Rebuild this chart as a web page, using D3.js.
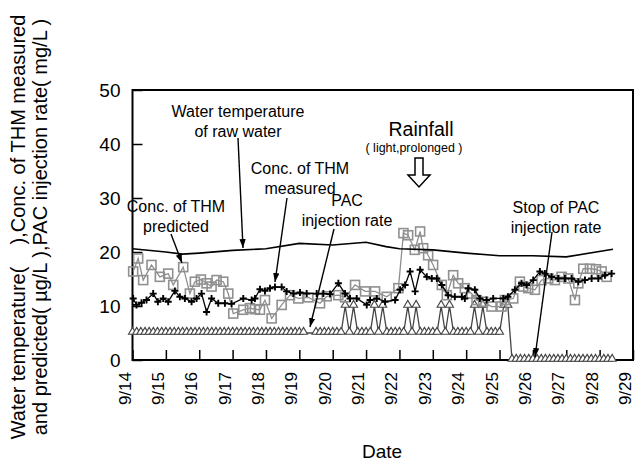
<!DOCTYPE html>
<html><head><meta charset="utf-8">
<script src="https://cdn.jsdelivr.net/npm/d3@7"></script>
<style>body{margin:0;background:#fff}svg{display:block}text{font-family:Arial,"Liberation Sans",sans-serif}</style>
</head><body><svg id="c" width="635" height="465"></svg>
<script>
// ---- data (days since 9/14 00:00) ----
const dateLabels = ["9/14","9/15","9/16","9/17","9/18","9/19","9/20","9/21","9/22","9/23","9/24","9/25","9/26","9/27","9/28","9/29"];
const yTicks = [0,10,20,30,40,50];

const tempDays = [0.0,1.0,1.5,2.0,3.0,4.0,5.0,6.0,7.0,7.6,8.0,9.0,10.0,11.0,12.0,13.0,14.4];
const tempVals = [20.6,20.0,19.6,19.8,20.3,20.6,21.6,21.3,21.8,21.0,20.6,20.4,19.8,19.3,19.3,19.1,20.5];

const measDays = [0.02,0.12,0.27,0.42,0.62,0.76,0.92,1.07,1.27,1.42,1.57,1.77,1.92,2.07,2.22,2.37,2.57,2.77,2.97,3.32,3.57,3.67,3.82,3.97,4.12,4.27,4.47,4.62,4.82,5.02,5.22,5.52,5.72,5.92,6.17,6.37,6.52,6.72,7.02,7.12,7.32,7.57,7.87,8.02,8.17,8.32,8.47,8.62,8.82,8.97,9.12,9.27,9.46,9.66,9.87,9.96,10.06,10.26,10.41,10.61,10.81,11.11,11.25,11.46,11.66,11.81,12.01,12.21,12.36,12.56,12.76,12.96,13.16,13.36,13.56,13.76,13.96,14.16,14.36];
const measVals = [11.4,10.2,10.6,11.1,12.3,10.8,11.4,10.8,12.8,11.7,11.4,10.8,11.4,12.3,8.9,11.4,10.5,10.5,10.4,11.4,11.1,11.4,13.1,12.8,13.3,13.5,13.5,12.7,12.3,12.5,12.3,12.3,12.3,12.2,14.2,12.3,11.4,11.4,10.2,11.1,11.4,10.8,11.1,13.0,13.9,16.4,12.7,16.7,15.4,15.1,15.1,13.9,12.0,11.7,11.7,11.4,13.3,13.0,11.4,11.1,11.4,11.4,11.7,13.0,14.2,13.9,14.8,16.4,16.0,15.4,15.1,15.1,15.1,14.5,14.8,15.1,15.1,15.7,16.0];

const predDays = [0.02,0.17,0.32,0.57,0.82,1.07,1.22,1.52,1.72,1.87,2.05,2.22,2.37,2.52,2.72,2.87,3.02,3.32,3.52,3.67,3.82,3.97,4.17,4.47,4.72,4.97,5.27,5.62,5.82,6.17,6.37,6.67,6.97,7.27,7.62,7.97,8.12,8.26,8.46,8.62,8.71,8.86,9.01,9.27,9.42,9.61,9.76,9.96,10.16,10.31,10.51,10.76,11.06,11.16,11.41,11.61,11.71,11.86,12.06,12.26,12.46,12.66,12.86,13.06,13.26,13.36,13.51,13.71,13.89,14.06,14.21];
const predVals = [16.4,18.8,14.8,17.6,15.4,16.0,13.9,17.2,12.3,14.5,14.9,14.2,13.6,14.8,14.5,12.3,8.6,9.3,9.6,9.4,9.3,11.1,7.7,10.2,12.0,11.4,11.6,10.5,11.8,12.0,11.6,13.9,12.7,12.7,11.7,13.3,23.5,23.1,20.4,23.8,20.7,19.4,17.6,13.9,12.0,15.7,14.2,13.3,12.3,11.1,10.8,9.9,9.9,11.1,11.4,14.5,13.6,13.3,13.0,14.8,15.1,14.8,15.4,15.1,11.1,14.2,16.9,16.9,16.8,16.4,15.4];

const pacDays = [0,0.125,0.25,0.375,0.5,0.625,0.75,0.875,1,1.125,1.25,1.375,1.5,1.625,1.75,1.875,2,2.125,2.25,2.375,2.5,2.625,2.75,2.875,3,3.125,3.25,3.375,3.5,3.625,3.75,3.875,4,4.125,4.25,4.375,4.5,4.625,4.75,4.875,5,5.125,5.5,5.625,5.75,5.875,6,6.125,6.25,6.375,6.5,6.625,6.75,6.875,7,7.125,7.25,7.375,7.5,7.625,7.75,7.875,8,8.125,8.25,8.375,8.5,8.625,8.75,8.875,9,9.125,9.25,9.375,9.5,9.625,9.75,9.875,10,10.125,10.25,10.375,10.5,10.625,10.75,10.875,11,11.125,11.25,11.375,11.5,11.625,11.75,11.875,12,12.125,12.25,12.375,12.5,12.625,12.75,12.875,13,13.125,13.25,13.375,13.5,13.625,13.75,13.875,14,14.125,14.25,14.375];
const pacVals = [5,5,5,5,5,5,5,5,5,5,5,5,5,5,5,5,5,5,5,5,5,5,5,5,5,5,5,5,5,5,5,5,5,5,5,5,5,5,5,5,5,5,5,5,5,5,5,5,5,10,5,10,5,5,5,5,10,5,10,5,5,5,5,5,10,5,10,5,5,5,5,5,10,5,10,5,5,5,5,5,10,5,10,5,5,5,5,10,10,0,0,0,0,0,0,0,0,0,0,0,0,0,0,0,0,0,0,0,0,0,0,0,0,0];

// ---- layout ----
const svg = d3.select("#c");
const L = 132.5, R = 633, T = 90, B = 360;
const x = d3.scaleLinear().domain([0,15]).range([L,R]);
const y = d3.scaleLinear().domain([0,50]).range([B,T]);
const FONT = 'Arial,"Liberation Sans",sans-serif';

// axes (ticks inward)
const yAxis = d3.axisLeft(y).tickValues(yTicks).tickSize(-10).tickPadding(12).tickFormat(d3.format("d"));
const gy = svg.append("g").attr("transform",`translate(${L},0)`).call(yAxis);
gy.select(".domain").remove();
gy.selectAll("line").attr("stroke","#000").attr("stroke-width",1.5);
gy.selectAll("text").attr("font-size",19).attr("font-family",FONT).attr("fill","#000");

const xAxis = d3.axisBottom(x).tickValues(d3.range(dateLabels.length)).tickSize(-10).tickFormat((d,i)=>dateLabels[i]);
const gx = svg.append("g").attr("transform",`translate(0,${B})`).call(xAxis);
gx.select(".domain").remove();
gx.selectAll("line").attr("stroke","#000").attr("stroke-width",1.5);
gx.selectAll("text").attr("font-size",17).attr("font-family",FONT).attr("fill","#000")
  .attr("text-anchor","end").attr("dy",null).attr("y",0)
  .attr("transform","translate(-8,12) rotate(-90)").attr("dominant-baseline","central");

// frame
svg.append("rect").attr("x",L).attr("y",T).attr("width",R-L).attr("height",B-T)
  .attr("fill","none").attr("stroke","#000").attr("stroke-width",2);

const line = d3.line().x(d=>x(d[0])).y(d=>y(d[1]));
const zip = (a,b)=>a.map((d,i)=>[d,b[i]]);

const pac = zip(pacDays,pacVals), pred = zip(predDays,predVals), meas = zip(measDays,measVals), temp = zip(tempDays,tempVals);

// PAC
svg.append("path").datum(pac).attr("d",line).attr("fill","none").attr("stroke","#444").attr("stroke-width",1.3);
const tri = d3.symbol().type(d3.symbolTriangle).size(28);
svg.append("g").selectAll("path").data(pac).join("path")
  .attr("d",tri).attr("transform",d=>`translate(${x(d[0])},${y(d[1])-1})`)
  .attr("fill","#fff").attr("stroke","#444").attr("stroke-width",1.1);

// predicted
svg.append("path").datum(pred).attr("d",line).attr("fill","none").attr("stroke","#8f8f8f").attr("stroke-width",1.3);
svg.append("g").selectAll("rect").data(pred).join("rect")
  .attr("x",d=>x(d[0])-4.5).attr("y",d=>y(d[1])-4.5).attr("width",9).attr("height",9)
  .attr("fill","none").attr("stroke","#909090").attr("stroke-width",1.6);

// measured
svg.append("path").datum(meas).attr("d",line).attr("fill","none").attr("stroke","#000").attr("stroke-width",1.3);
svg.append("g").selectAll("path").data(meas).join("path")
  .attr("d",d=>{const cx=x(d[0]),cy=y(d[1]);return `M${cx-3.5},${cy}H${cx+3.5}M${cx},${cy-3.5}V${cy+3.5}`;})
  .attr("stroke","#000").attr("stroke-width",1.9);

// temperature
svg.append("path").datum(temp).attr("d",line)
  .attr("fill","none").attr("stroke","#000").attr("stroke-width",1.6);

// arrow marker
const defs = svg.append("defs");
defs.append("marker").attr("id","ah").attr("viewBox","0 0 10 10").attr("refX",10).attr("refY",5)
  .attr("markerWidth",9).attr("markerHeight",9).attr("markerUnits","userSpaceOnUse").attr("orient","auto")
  .append("path").attr("d","M0,1.5L10,5L0,8.5Z").attr("fill","#000");

function label(lines, cx, cy, size, gap){
  lines.forEach((t,i)=>svg.append("text").attr("x",cx).attr("y",cy+i*gap).attr("text-anchor","middle")
    .attr("dominant-baseline","central").attr("font-size",size).attr("font-family",FONT).text(t));
}
function arrow(x1,y1,x2,y2){
  svg.append("line").attr("x1",x1).attr("y1",y1).attr("x2",x2).attr("y2",y2)
    .attr("stroke","#000").attr("stroke-width",1.4).attr("marker-end","url(#ah)");
}
label(["Water temperature","of raw water"],238,111,16,20);
arrow(238,138,243,248);
label(["Conc. of THM","measured"],300,168,16,20);
arrow(287,198,275,282);
label(["Conc. of THM","predicted"],176,206,16,20);
arrow(171,234,182,263);
label(["PAC","injection rate"],347,200,16,20);
arrow(334,229,310,327);
label(["Stop of PAC","injection rate"],556,207,16,20);
arrow(552,232,535,357);

// Rainfall
svg.append("text").attr("x",421).attr("y",129).attr("text-anchor","middle").attr("dominant-baseline","central")
  .attr("font-size",19.5).attr("font-family",FONT).text("Rainfall");
svg.append("text").attr("x",414).attr("y",147).attr("text-anchor","middle").attr("dominant-baseline","central")
  .attr("font-size",13.5).attr("font-family",FONT).attr("textLength",97).attr("lengthAdjust","spacingAndGlyphs").text("( light,prolonged )");
const ax=419, at=158, ab=187;
svg.append("path").attr("d",`M${ax-4},${at}H${ax+4}V${ab-12}H${ax+11}L${ax},${ab}L${ax-11},${ab-12}H${ax-4}Z`)
  .attr("fill","#fff").attr("stroke","#000").attr("stroke-width",1.5);

// axis titles
svg.append("text").attr("x",382).attr("y",451).attr("text-anchor","middle").attr("dominant-baseline","central")
  .attr("font-size",19).attr("font-family",FONT).text("Date");
const yt = svg.append("text").attr("transform","translate(18,227) rotate(-90)").attr("text-anchor","middle")
  .attr("font-size",20).attr("font-family",FONT);
yt.append("tspan").attr("x",0).attr("dy","0.35em").text("Water temperature(\u00a0\u00a0\u00a0\u00a0),Conc. of THM measured");
yt.append("tspan").attr("x",0).attr("dy",22).text("and predicted( \u00b5g/L ),PAC injection rate( mg/L )");
</script></body></html>
